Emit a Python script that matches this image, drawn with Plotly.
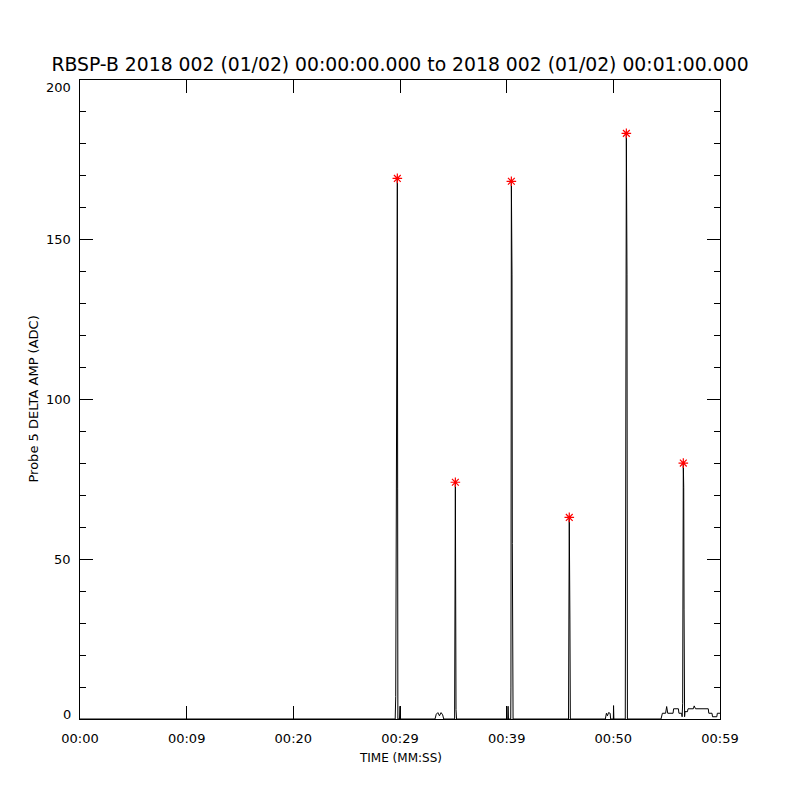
import plotly.graph_objects as go

# Time in seconds from 00:00:00, and Probe 5 delta amplitude (ADC)
time_s = [0.0, 29.55, 29.6, 29.69, 29.75, 29.78, 29.8, 29.95, 30.0, 30.05,
          33.28, 33.4, 33.55, 33.7, 33.85, 34.0, 34.1,
          35.12, 35.15, 35.17, 35.19, 35.25, 35.3,
          40.1, 40.13, 40.17, 40.38, 40.4, 40.44, 40.5, 40.53, 40.6,
          45.8, 45.82, 45.87, 45.93, 45.97,
          49.25, 49.35, 49.45, 49.55, 49.7, 49.75, 50.0, 50.02, 50.05,
          51.12, 51.15, 51.22, 51.28, 51.32,
          54.47, 54.6, 54.9, 55.0, 55.1, 55.6, 55.65, 56.1, 56.15, 56.4, 56.45, 56.5,
          56.56, 56.6, 56.63, 56.68, 56.72, 56.95, 57.0, 57.5, 57.58, 57.7, 58.9,
          58.95, 59.25, 59.3, 59.7, 59.75, 60.0]
amp = [0, 0, 7, 92, 169, 72, 0, 0, 4, 0,
       0, 1.5, 2, 1, 2, 1.3, 0,
       0, 29, 66, 74, 3, 0,
       0, 4, 0, 0, 10, 168, 139, 55, 0,
       0, 31.7, 63, 31, 0,
       0, 1.8, 1, 2, 1.8, 0, 0, 4.2, 0,
       0, 107, 183, 139, 0,
       0, 1.8, 1.8, 3.9, 1.8, 1.8, 3.2, 3.2, 1.8, 1.8, 0.7, 4.9,
       80, 72.5, 34.4, 0.7, 2.3, 2.3, 3.2, 3.2, 4.1, 3.2, 3.2,
       1.8, 1.8, 0.7, 0.7, 1.8, 1.8]

# Peak markers
peak_t = [29.75, 35.19, 40.44, 45.87, 51.22, 56.56]
peak_v = [169.2, 74.1, 168.3, 63.1, 183.3, 80.1]

x_tickvals = [0, 10, 20, 30, 40, 50, 60]
x_ticktext = ["00:00", "00:09", "00:20", "00:29", "00:39", "00:50", "00:59"]
y_tickvals = [0, 50, 100, 150, 200]
y_ticktext = ["0", "50", "100", "150", "200"]

title_text = "RBSP-B 2018 002 (01/02) 00:00:00.000 to 2018 002 (01/02) 00:01:00.000"
font_family = "DejaVu Sans"

# page has an 8px body margin; figure is sized to fit the 800px window
W, H = 792, 792

fig = go.Figure()
fig.add_trace(go.Scatter(x=time_s, y=amp, mode="lines",
                         line=dict(color="black", width=1), showlegend=False,
                         hoverinfo="skip"))
fig.add_trace(go.Scatter(x=peak_t, y=peak_v, mode="markers",
                         marker=dict(symbol="asterisk-open", size=8,
                                     line=dict(color="red", width=1.2), color="red"),
                         showlegend=False))

annotations = [
    dict(text="TIME (MM:SS)", x=0.5, y=(719 - 758) / 639, xref="paper", yref="paper",
         xanchor="center", yanchor="middle", showarrow=False,
         font=dict(size=12, family=font_family, color="black")),
    dict(text="Probe 5 DELTA AMP (ADC)", x=(33 - 80) / 640, y=0.5, xref="paper",
         yref="paper", xanchor="center", yanchor="middle", textangle=-90,
         showarrow=False, font=dict(size=13, family=font_family, color="black")),
]
for v, t in zip(y_tickvals, y_ticktext):
    shift = 0
    if v == y_tickvals[0]:
        shift = 5
    elif v == y_tickvals[-1]:
        shift = -7
    annotations.append(dict(text=t, x=0, y=v, xref="paper", yref="y",
                            xanchor="right", yanchor="middle", xshift=-7, yshift=shift,
                            showarrow=False,
                            font=dict(size=13, family=font_family, color="black")))

fig.update_layout(
    width=W, height=H,
    paper_bgcolor="white", plot_bgcolor="white",
    margin=dict(l=72, r=80, t=72, b=81),
    font=dict(family=font_family, color="black", size=13),
    title=dict(text=title_text, x=(400 - 8) / W, xanchor="center", y=1 - 56 / H,
               yanchor="middle", yref="container",
               font=dict(size=18.8, family=font_family, color="black")),
    xaxis=dict(range=[0, 60], tickvals=x_tickvals, ticktext=x_ticktext,
               ticks="inside", ticklen=13, tickwidth=1, tickcolor="black",
               showline=True, linecolor="black", linewidth=1, mirror="ticks",
               showgrid=False, zeroline=False, tickfont=dict(size=13),
               ticklabelstandoff=7, automargin=False),
    yaxis=dict(range=[0, 200], tickvals=y_tickvals, showticklabels=False,
               ticks="inside", ticklen=13, tickwidth=1, tickcolor="black",
               showline=True, linecolor="black", linewidth=1, mirror="ticks",
               showgrid=False, zeroline=False,
               minor=dict(dtick=10, ticks="inside", ticklen=6, tickcolor="black",
                          tickwidth=1, showgrid=False),
               automargin=False),
    annotations=annotations,
)

fig.write_html("out.html")
